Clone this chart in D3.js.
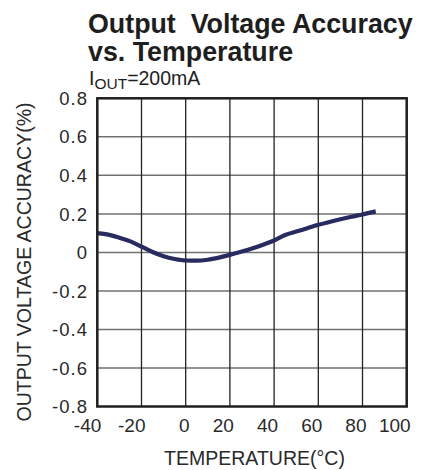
<!DOCTYPE html>
<html><head><meta charset="utf-8">
<script src="https://cdn.jsdelivr.net/npm/d3@7"></script>
<style>
html,body{margin:0;padding:0;background:#fff;}
svg{display:block;font-family:"Liberation Sans",Arial,Helvetica,sans-serif;}
</style></head>
<body><svg id="c" width="426" height="470"></svg>
<script>
const titleLines = ["Output  Voltage Accuracy", "vs. Temperature"];
const xLabel = "TEMPERATURE(°C)";
const yLabel = "OUTPUT VOLTAGE ACCURACY(%)";
const xTicks = [-40, -20, 0, 20, 40, 60, 80, 100];
const yTicks = [0.8, 0.6, 0.4, 0.2, 0, -0.2, -0.4, -0.6, -0.8];
const yTickLabels = ["0.8", "0.6", "0.4", "0.2", "0", "-0.2", "-0.4", "-0.6", "-0.8"];
const temperature = [-40, -35, -30, -25, -20, -15, -10, -5, 0, 5, 10, 15, 20, 25, 30, 35, 40, 45, 50, 55, 60, 65, 70, 75, 80, 86];
const accuracy = [0.100, 0.092, 0.076, 0.057, 0.030, 0.002, -0.020, -0.034, -0.042, -0.043, -0.038, -0.027, -0.013, 0.003, 0.020, 0.040, 0.062, 0.090, 0.108, 0.125, 0.143, 0.158, 0.172, 0.185, 0.197, 0.213];

const svg = d3.select("#c");
const L = 97.3, R = 406.7, T = 98.3, B = 406.5;
const x = d3.scaleLinear().domain([-40, 100]).range([L, R]);
const y = d3.scaleLinear().domain([-0.8, 0.8]).range([B, T]);
const ink = "#1e1e1e";

// title
svg.append("text").attr("x", 88).attr("y", 33).attr("font-size", 26.8).attr("font-weight", "bold").attr("fill", ink).style("white-space","pre").text(titleLines[0]);
svg.append("text").attr("x", 88).attr("y", 61).attr("font-size", 26.8).attr("font-weight", "bold").attr("fill", ink).text(titleLines[1]);
// subtitle
const st = svg.append("text").attr("x", 89).attr("y", 85).attr("font-size", 19.5).attr("fill", ink);
st.append("tspan").text("I");
st.append("tspan").attr("font-size", 15.5).attr("dy", 4).text("OUT");
st.append("tspan").attr("dy", -4).text("=200mA");

// grid
svg.append("g").selectAll("line").data(yTicks.slice(1, -1)).join("line")
  .attr("x1", L).attr("x2", R).attr("y1", d => y(d)).attr("y2", d => y(d))
  .attr("stroke", "#707070").attr("stroke-width", 1.5);
svg.append("g").selectAll("line").data(xTicks.slice(1, -1)).join("line")
  .attr("y1", T).attr("y2", B).attr("x1", d => x(d)).attr("x2", d => x(d))
  .attr("stroke", "#222").attr("stroke-width", 1.3);

// curve
const line = d3.line().x(d => x(d[0])).y(d => y(d[1])).curve(d3.curveMonotoneX);
svg.append("path").datum(temperature.map((t, i) => [t, accuracy[i]]))
  .attr("d", line).attr("fill", "none").attr("stroke", "#272b5f").attr("stroke-width", 4.2)
  .attr("stroke-linecap", "butt").attr("stroke-linejoin", "round");

// frame
svg.append("rect").attr("x", L).attr("y", T).attr("width", R - L).attr("height", B - T)
  .attr("fill", "none").attr("stroke", ink).attr("stroke-width", 2.5);

// y tick labels
svg.append("g").selectAll("text").data(yTicks).join("text")
  .attr("x", 88).attr("y", d => y(d)).attr("dy", "0.36em").attr("text-anchor", "end")
  .attr("font-size", 18.5).attr("letter-spacing", 1).attr("fill", "#2a2a2a")
  .text((d, i) => yTickLabels[i]);

// x tick labels
svg.append("g").selectAll("text").data(xTicks).join("text")
  .attr("x", d => x(d) + 4).attr("y", 432).attr("text-anchor", "end")
  .attr("font-size", 19).attr("fill", "#2a2a2a").text(d => String(d));

// axis titles
svg.append("text").attr("x", 254.5).attr("y", 465).attr("text-anchor", "middle")
  .attr("font-size", 19.5).attr("fill", "#2a2a2a").text(xLabel);
svg.append("text").attr("transform", "translate(30.5,262) rotate(-90)").attr("text-anchor", "middle")
  .attr("font-size", 21).attr("textLength", 319).attr("lengthAdjust", "spacingAndGlyphs")
  .attr("fill", "#2a2a2a").text(yLabel);
</script></body></html>
